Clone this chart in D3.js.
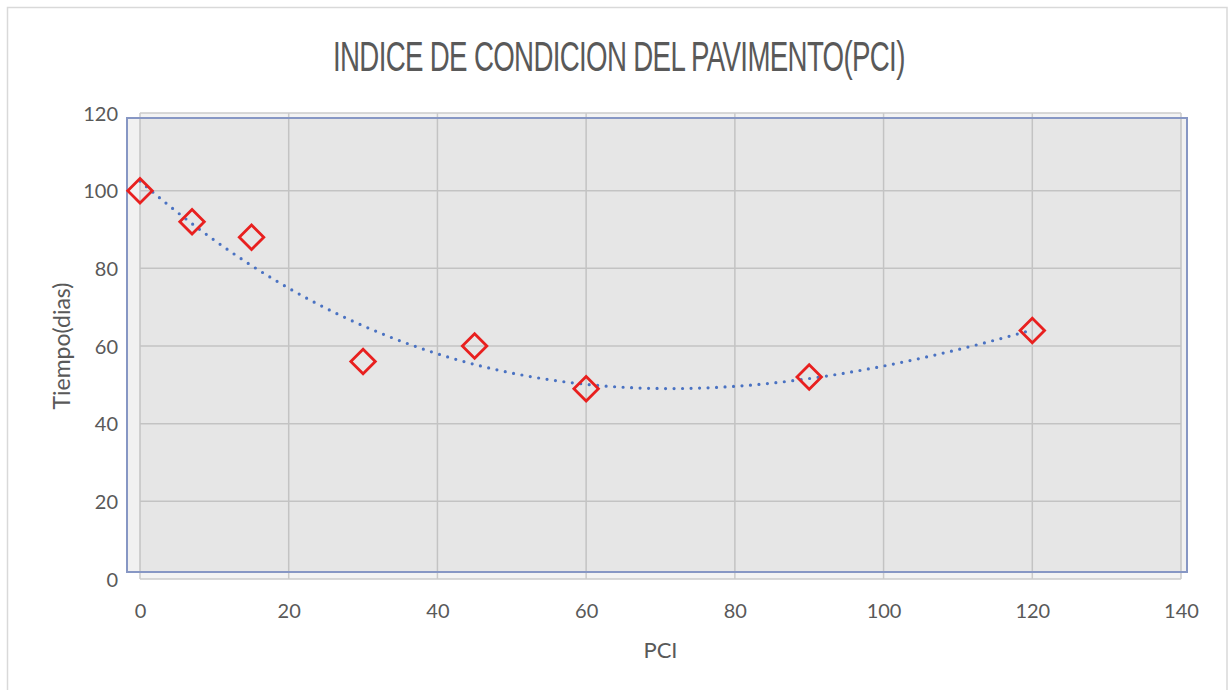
<!DOCTYPE html>
<html>
<head>
<meta charset="utf-8">
<script src="https://cdn.jsdelivr.net/npm/d3@7"></script>
<style>
  html, body { margin: 0; padding: 0; background: #ffffff; }
  svg { display: block; }
</style>
</head>
<body>
<svg id="chart" width="1231" height="690"></svg>
<script>
// PCI readings and elapsed time in days
const pci = [0, 7, 15, 30, 45, 60, 90, 120];
const tiempo = [100, 92, 88, 56, 60, 49, 52, 64];

const xTicks = [0, 20, 40, 60, 80, 100, 120, 140];
const yTicks = [0, 20, 40, 60, 80, 100, 120];

const titleText = "INDICE DE CONDICION DEL PAVIMENTO(PCI)";
const xTitle = "PCI";
const yTitle = "Tiempo(dias)";

// polynomial trendline order
const trendOrder = 3;

const W = 1231, H = 690;
const plot = { left: 140, right: 1181, top: 113, bottom: 579 };
const textColor = "#595959";
const font = "Lato, 'Open Sans', 'Liberation Sans', sans-serif";

const svg = d3.select("#chart");

const x = d3.scaleLinear().domain([0, 140]).range([plot.left, plot.right]);
const y = d3.scaleLinear().domain([0, 120]).range([plot.bottom, plot.top]);

// outer chart frame
svg.append("rect")
  .attr("x", 7.5).attr("y", 7.5)
  .attr("width", 1227 - 7.5).attr("height", H + 10)
  .attr("fill", "#ffffff")
  .attr("stroke", "#d9d9d9").attr("stroke-width", 1.5);

// plot area background
svg.append("rect")
  .attr("x", plot.left).attr("y", plot.top)
  .attr("width", plot.right - plot.left).attr("height", plot.bottom - plot.top)
  .attr("fill", "#f3f3f3");

// gridlines
const grid = svg.append("g").attr("stroke", "#cbcbcb").attr("stroke-width", 1.5);
grid.selectAll("line.v").data(xTicks).join("line")
  .attr("x1", d => x(d)).attr("x2", d => x(d))
  .attr("y1", plot.top).attr("y2", plot.bottom);
grid.selectAll("line.h").data(yTicks).join("line")
  .attr("x1", plot.left).attr("x2", plot.right)
  .attr("y1", d => y(d)).attr("y2", d => y(d));

// shaded frame over the plot area
svg.append("rect")
  .attr("x", plot.left - 13).attr("y", plot.top + 5)
  .attr("width", (plot.right + 6) - (plot.left - 13))
  .attr("height", (plot.bottom - 7) - (plot.top + 5))
  .attr("fill", "rgba(150,150,150,0.13)")
  .attr("stroke", "#8797c4").attr("stroke-width", 2);

// axis tick labels
const xAxis = d3.axisBottom(x).tickValues(xTicks).tickSize(0).tickPadding(0);
const gx = svg.append("g").attr("transform", `translate(0, ${plot.bottom + 25})`).call(xAxis);
gx.select(".domain").remove();
gx.selectAll("text")
  .attr("fill", textColor).attr("font-family", font).attr("font-size", 20)
  .attr("dy", "0.71em");

const yAxis = d3.axisLeft(y).tickValues(yTicks).tickSize(0).tickPadding(0);
const gy = svg.append("g").attr("transform", `translate(${plot.left - 22}, 0)`).call(yAxis);
gy.select(".domain").remove();
gy.selectAll("text")
  .attr("fill", textColor).attr("font-family", font).attr("font-size", 20)
  .attr("dy", "0.35em");

// polynomial trendline (least squares, normal equations)
function polyFit(xs, ys, order) {
  const m = order + 1;
  const A = [];
  for (let r = 0; r < m; r++) {
    const row = [];
    for (let c = 0; c < m; c++) row.push(d3.sum(xs, xi => Math.pow(xi, r + c)));
    row.push(d3.sum(xs, (xi, i) => ys[i] * Math.pow(xi, r)));
    A.push(row);
  }
  for (let c = 0; c < m; c++) {
    let p = c;
    for (let r = c + 1; r < m; r++) if (Math.abs(A[r][c]) > Math.abs(A[p][c])) p = r;
    [A[c], A[p]] = [A[p], A[c]];
    for (let r = 0; r < m; r++) {
      if (r === c) continue;
      const f = A[r][c] / A[c][c];
      for (let k = c; k <= m; k++) A[r][k] -= f * A[c][k];
    }
  }
  return A.map((row, i) => row[m] / row[i]);
}
const coef = polyFit(pci, tiempo, trendOrder);
const evalPoly = xv => coef.reduce((acc, c, k) => acc + c * Math.pow(xv, k), 0);
const xMin = d3.min(pci), xMax = d3.max(pci);
const trend = d3.range(0, 241).map(i => {
  const xv = xMin + (xMax - xMin) * i / 240;
  return [xv, evalPoly(xv)];
});
svg.append("path")
  .datum(trend)
  .attr("d", d3.line().x(d => x(d[0])).y(d => y(d[1])))
  .attr("fill", "none")
  .attr("stroke", "#4a72c2")
  .attr("stroke-width", 3.2)
  .attr("stroke-linecap", "round")
  .attr("stroke-dasharray", "0 8.5");

// data markers (open diamonds)
svg.append("g").selectAll("path").data(pci.map((p, i) => [p, tiempo[i]])).join("path")
  .attr("transform", d => `translate(${x(d[0])}, ${y(d[1])}) rotate(45)`)
  .attr("d", d3.symbol().type(d3.symbolSquare).size(300))
  .attr("fill", "none")
  .attr("stroke", "#e8201f")
  .attr("stroke-width", 2.8);

// chart title, squeezed horizontally to span the title box
const titleLeft = 333, titleWidth = 572;
const title = svg.append("text")
  .attr("x", 0).attr("y", 0)
  .attr("fill", textColor)
  .attr("font-family", "'Liberation Sans Narrow', 'Liberation Sans', sans-serif")
  .attr("font-size", 42)
  .attr("letter-spacing", -1)
  .text(titleText);
const natural = title.node().getComputedTextLength();
title.attr("transform", `translate(${titleLeft}, 71) scale(${titleWidth / natural}, 1)`);

svg.append("text")
  .attr("x", (plot.left + plot.right) / 2).attr("y", 658)
  .attr("text-anchor", "middle")
  .attr("fill", textColor).attr("font-family", font).attr("font-size", 22)
  .text(xTitle);

svg.append("text")
  .attr("transform", `translate(70, ${(plot.top + plot.bottom) / 2}) rotate(-90)`)
  .attr("text-anchor", "middle")
  .attr("fill", textColor).attr("font-family", font).attr("font-size", 23)
  .text(yTitle);
</script>
</body>
</html>
